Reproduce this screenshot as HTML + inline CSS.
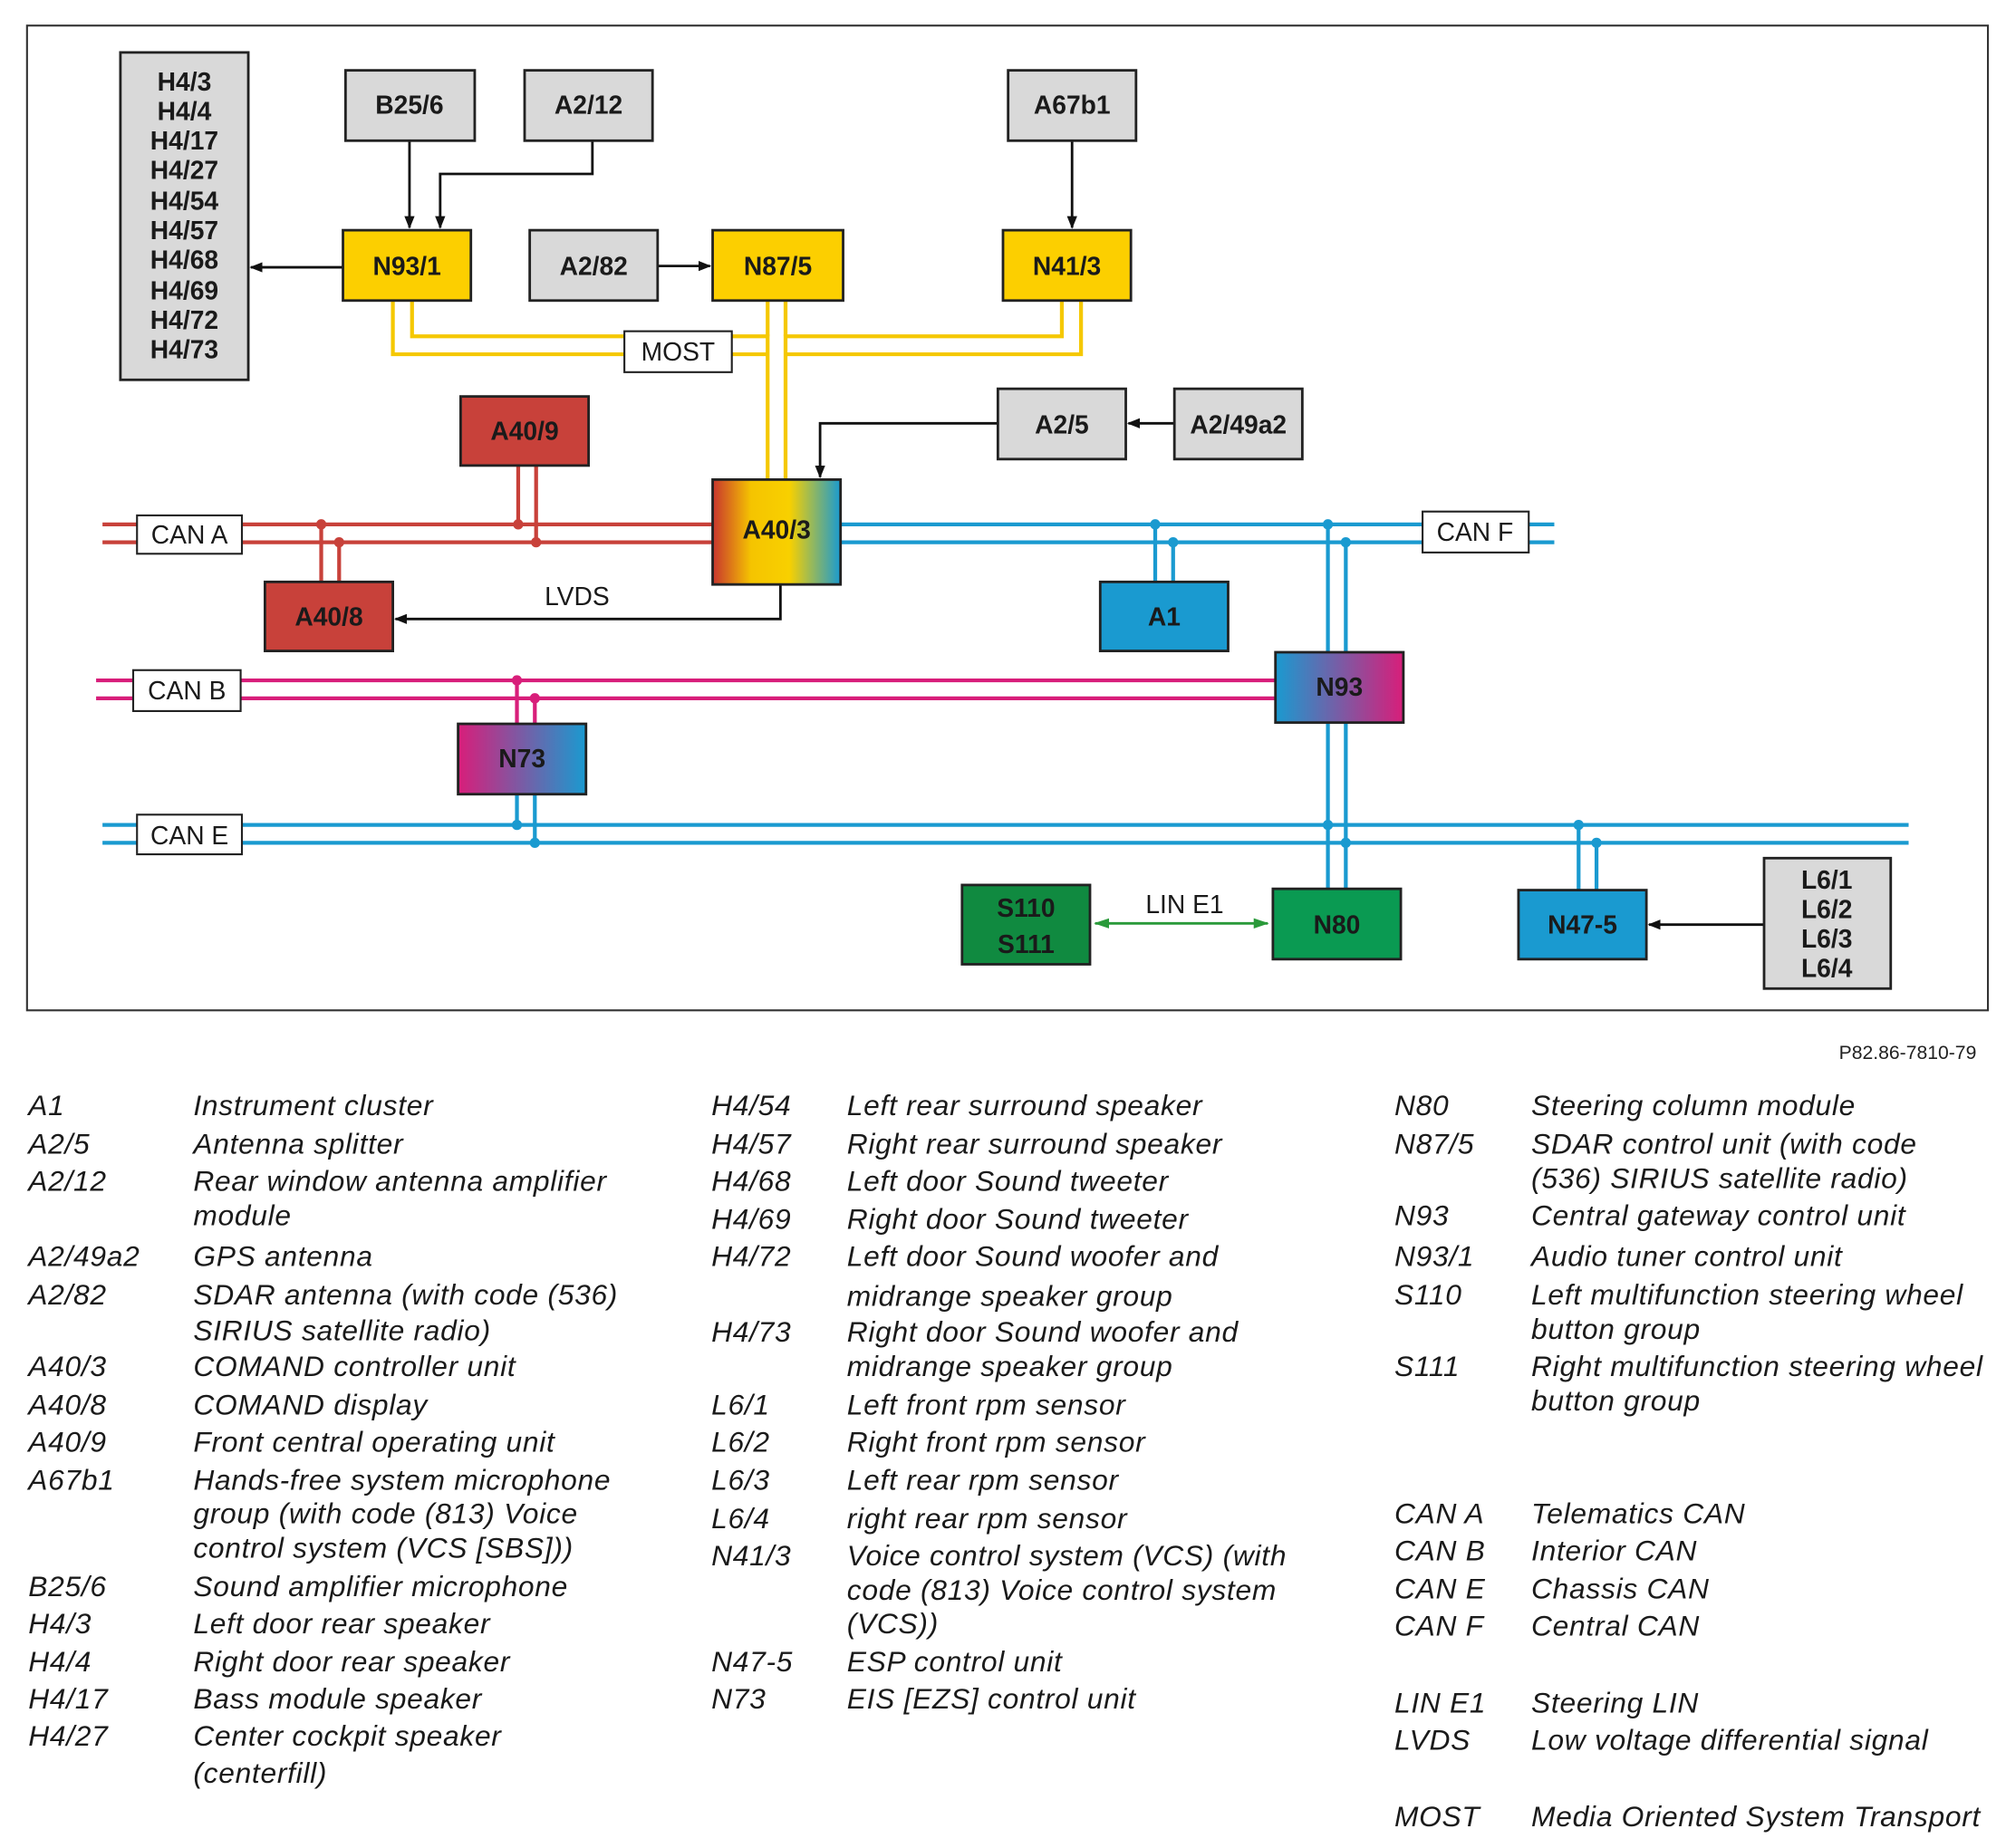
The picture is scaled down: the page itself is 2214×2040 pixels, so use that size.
<!DOCTYPE html>
<html><head><meta charset="utf-8"><style>html,body{margin:0;padding:0;background:#fff}svg{display:block}</style></head>
<body>
<svg width="2214" height="2040" viewBox="0 0 1568 1445" xmlns="http://www.w3.org/2000/svg" font-family="Liberation Sans, Arial, sans-serif">
<defs>
<linearGradient id="g403" x1="0" x2="1"><stop offset="0" stop-color="#c8352e"/><stop offset="0.3" stop-color="#f5c400"/><stop offset="0.6" stop-color="#f8d000"/><stop offset="1" stop-color="#1a9ad0"/></linearGradient>
<linearGradient id="g93" x1="0" x2="1"><stop offset="0" stop-color="#1a9ad0"/><stop offset="1" stop-color="#d81e7a"/></linearGradient>
<linearGradient id="g73" x1="0" x2="1"><stop offset="0" stop-color="#d81e7a"/><stop offset="1" stop-color="#1a9ad0"/></linearGradient>
<marker id="ar" markerWidth="10" markerHeight="10" refX="9" refY="5" orient="auto" markerUnits="userSpaceOnUse"><path d="M0,1 L10,5 L0,9 z" fill="#111"/></marker>
<marker id="ag" markerWidth="12" markerHeight="10" refX="11" refY="5" orient="auto" markerUnits="userSpaceOnUse"><path d="M0,1 L12,5 L0,9 z" fill="#2a9a3a"/></marker>
<marker id="ags" markerWidth="12" markerHeight="10" refX="1" refY="5" orient="auto" markerUnits="userSpaceOnUse"><path d="M12,1 L0,5 L12,9 z" fill="#2a9a3a"/></marker>
</defs>
<rect x="21" y="20" width="1533" height="770" fill="#fff" stroke="#333" stroke-width="1.5"/>

<g stroke="#f5c800" stroke-width="3" fill="none">
<path d="M322,235 V263 H600 V375"/><path d="M307,235 V277 H600"/>
<path d="M614,375 V263 H830 V235"/><path d="M614,277 H845 V235"/>
<path d="M600,235 V263"/><path d="M614,235 V263"/>
</g>
<g stroke="#c8413a" stroke-width="3" fill="none">
<path d="M80,410 H557"/><path d="M80,424 H557"/>
<path d="M405,364 V410"/><path d="M419,364 V424"/>
<path d="M251,455 V410"/><path d="M265,455 V424"/>
</g>
<g fill="#c8413a"><circle cx="405" cy="410" r="4"/><circle cx="419" cy="424" r="4"/><circle cx="251" cy="410" r="4"/><circle cx="265" cy="424" r="4"/></g>
<g stroke="#1a9ad0" stroke-width="3" fill="none">
<path d="M657,410 H1215"/><path d="M657,424 H1215"/>
<path d="M903,455 V410"/><path d="M917,455 V424"/>
<path d="M1038,510 V410"/><path d="M1052,510 V424"/>
<path d="M80,645 H1492"/><path d="M80,659 H1492"/>
<path d="M1038,565 V695"/><path d="M1052,565 V695"/>
<path d="M404,621 V645"/><path d="M418,621 V659"/>
<path d="M1234,696 V645"/><path d="M1248,696 V659"/>
</g>
<g fill="#1a9ad0"><circle cx="903" cy="410" r="4"/><circle cx="917" cy="424" r="4"/><circle cx="1038" cy="410" r="4"/><circle cx="1052" cy="424" r="4"/><circle cx="1038" cy="645" r="4"/><circle cx="1052" cy="659" r="4"/><circle cx="404" cy="645" r="4"/><circle cx="418" cy="659" r="4"/><circle cx="1234" cy="645" r="4"/><circle cx="1248" cy="659" r="4"/></g>
<g stroke="#d81e7a" stroke-width="3" fill="none">
<path d="M75,532 H997"/><path d="M75,546 H997"/>
<path d="M404,566 V532"/><path d="M418,566 V546"/>
</g>
<g fill="#d81e7a"><circle cx="404" cy="532" r="4"/><circle cx="418" cy="546" r="4"/></g>

<g stroke="#111" stroke-width="2" fill="none">
<path d="M320,110 V178" marker-end="url(#ar)"/>
<path d="M463,110 V136 H344 V178" marker-end="url(#ar)"/>
<path d="M838,110 V178" marker-end="url(#ar)"/>
<path d="M268,209 H196" marker-end="url(#ar)"/>
<path d="M514,208 H555" marker-end="url(#ar)"/>
<path d="M780,331 H641 V373" marker-end="url(#ar)"/>
<path d="M918,331 H882" marker-end="url(#ar)"/>
<path d="M610,457 V484 H309" marker-end="url(#ar)"/>
<path d="M1379,723 H1289" marker-end="url(#ar)"/>
</g>
<path d="M856,722 H991" stroke="#2a9a3a" stroke-width="2" marker-end="url(#ag)" marker-start="url(#ags)"/>

<g stroke="#222" stroke-width="2">
<rect x="94" y="41" width="100" height="256" fill="#d9d9d9"/>
<rect x="270" y="55" width="101" height="55" fill="#d9d9d9"/>
<rect x="410" y="55" width="100" height="55" fill="#d9d9d9"/>
<rect x="788" y="55" width="100" height="55" fill="#d9d9d9"/>
<rect x="268" y="180" width="100" height="55" fill="#fccf00"/>
<rect x="414" y="180" width="100" height="55" fill="#d9d9d9"/>
<rect x="557" y="180" width="102" height="55" fill="#fccf00"/>
<rect x="784" y="180" width="100" height="55" fill="#fccf00"/>
<rect x="360" y="310" width="100" height="54" fill="#c8413a"/>
<rect x="780" y="304" width="100" height="55" fill="#d9d9d9"/>
<rect x="918" y="304" width="100" height="55" fill="#d9d9d9"/>
<rect x="557" y="375" width="100" height="82" fill="url(#g403)"/>
<rect x="207" y="455" width="100" height="54" fill="#c8413a"/>
<rect x="860" y="455" width="100" height="54" fill="#1a9ad0"/>
<rect x="997" y="510" width="100" height="55" fill="url(#g93)"/>
<rect x="358" y="566" width="100" height="55" fill="url(#g73)"/>
<rect x="752" y="692" width="100" height="62" fill="#108a40"/>
<rect x="995" y="695" width="100" height="55" fill="#0a9a52"/>
<rect x="1187" y="696" width="100" height="54" fill="#1a9ad0"/>
<rect x="1379" y="671" width="99" height="102" fill="#d9d9d9"/>
</g>
<g stroke="#222" stroke-width="1.5" fill="#fff">
<rect x="488" y="259" width="84" height="32"/>
<rect x="107" y="403" width="82" height="30"/>
<rect x="1112" y="400" width="83" height="32"/>
<rect x="104" y="524" width="84" height="32"/>
<rect x="107" y="637" width="82" height="31"/>
</g>

<g font-weight="bold" font-size="20" fill="#1a1a1a" text-anchor="middle">
<text x="144" y="71">H4/3</text><text x="144" y="94">H4/4</text><text x="144" y="117">H4/17</text><text x="144" y="140">H4/27</text><text x="144" y="164">H4/54</text><text x="144" y="187">H4/57</text><text x="144" y="210">H4/68</text><text x="144" y="234">H4/69</text><text x="144" y="257">H4/72</text><text x="144" y="280">H4/73</text>
<text x="320" y="89">B25/6</text><text x="460" y="89">A2/12</text><text x="838" y="89">A67b1</text>
<text x="318" y="215">N93/1</text><text x="464" y="215">A2/82</text><text x="608" y="215">N87/5</text><text x="834" y="215">N41/3</text>
<text x="410" y="344">A40/9</text><text x="830" y="339">A2/5</text><text x="968" y="339">A2/49a2</text>
<text x="607" y="421">A40/3</text><text x="257" y="489">A40/8</text><text x="910" y="489">A1</text>
<text x="1047" y="544">N93</text><text x="408" y="600">N73</text>
<text x="802" y="717">S110</text><text x="802" y="745">S111</text>
<text x="1045" y="730">N80</text><text x="1237" y="730">N47-5</text>
<text x="1428" y="695">L6/1</text><text x="1428" y="718">L6/2</text><text x="1428" y="741">L6/3</text><text x="1428" y="764">L6/4</text>
</g>
<g font-size="20" fill="#1a1a1a" text-anchor="middle">
<text x="530" y="282">MOST</text><text x="148" y="425">CAN A</text><text x="1153" y="423">CAN F</text><text x="146" y="547">CAN B</text><text x="148" y="660">CAN E</text>
<text x="451" y="473">LVDS</text><text x="926" y="714">LIN E1</text>
</g>
<text x="1545" y="828" font-size="15" text-anchor="end" fill="#222">P82.86-7810-79</text>

<g font-size="22.5" font-style="italic" fill="#1a1a1a" letter-spacing="0.5">
<text x="22" y="872">A1</text><text x="151" y="872">Instrument cluster</text>
<text x="22" y="902">A2/5</text><text x="151" y="902">Antenna splitter</text>
<text x="22" y="931">A2/12</text><text x="151" y="931">Rear window antenna amplifier</text><text x="151" y="958">module</text>
<text x="22" y="990">A2/49a2</text><text x="151" y="990">GPS antenna</text>
<text x="22" y="1020">A2/82</text><text x="151" y="1020">SDAR antenna (with code (536)</text><text x="151" y="1048">SIRIUS satellite radio)</text>
<text x="22" y="1076">A40/3</text><text x="151" y="1076">COMAND controller unit</text>
<text x="22" y="1106">A40/8</text><text x="151" y="1106">COMAND display</text>
<text x="22" y="1135">A40/9</text><text x="151" y="1135">Front central operating unit</text>
<text x="22" y="1165">A67b1</text><text x="151" y="1165">Hands-free system microphone</text><text x="151" y="1191">group (with code (813) Voice</text><text x="151" y="1218">control system (VCS [SBS]))</text>
<text x="22" y="1248">B25/6</text><text x="151" y="1248">Sound amplifier microphone</text>
<text x="22" y="1277">H4/3</text><text x="151" y="1277">Left door rear speaker</text>
<text x="22" y="1307">H4/4</text><text x="151" y="1307">Right door rear speaker</text>
<text x="22" y="1336">H4/17</text><text x="151" y="1336">Bass module speaker</text>
<text x="22" y="1365">H4/27</text><text x="151" y="1365">Center cockpit speaker</text><text x="151" y="1394">(centerfill)</text>

<text x="556" y="872">H4/54</text><text x="662" y="872">Left rear surround speaker</text>
<text x="556" y="902">H4/57</text><text x="662" y="902">Right rear surround speaker</text>
<text x="556" y="931">H4/68</text><text x="662" y="931">Left door Sound tweeter</text>
<text x="556" y="961">H4/69</text><text x="662" y="961">Right door Sound tweeter</text>
<text x="556" y="990">H4/72</text><text x="662" y="990">Left door Sound woofer and</text><text x="662" y="1021">midrange speaker group</text>
<text x="556" y="1049">H4/73</text><text x="662" y="1049">Right door Sound woofer and</text><text x="662" y="1076">midrange speaker group</text>
<text x="556" y="1106">L6/1</text><text x="662" y="1106">Left front rpm sensor</text>
<text x="556" y="1135">L6/2</text><text x="662" y="1135">Right front rpm sensor</text>
<text x="556" y="1165">L6/3</text><text x="662" y="1165">Left rear rpm sensor</text>
<text x="556" y="1195">L6/4</text><text x="662" y="1195">right rear rpm sensor</text>
<text x="556" y="1224">N41/3</text><text x="662" y="1224">Voice control system (VCS) (with</text><text x="662" y="1251">code (813) Voice control system</text><text x="662" y="1277">(VCS))</text>
<text x="556" y="1307">N47-5</text><text x="662" y="1307">ESP control unit</text>
<text x="556" y="1336">N73</text><text x="662" y="1336">EIS [EZS] control unit</text>

<text x="1090" y="872">N80</text><text x="1197" y="872">Steering column module</text>
<text x="1090" y="902">N87/5</text><text x="1197" y="902">SDAR control unit (with code</text><text x="1197" y="929">(536) SIRIUS satellite radio)</text>
<text x="1090" y="958">N93</text><text x="1197" y="958">Central gateway control unit</text>
<text x="1090" y="990">N93/1</text><text x="1197" y="990">Audio tuner control unit</text>
<text x="1090" y="1020">S110</text><text x="1197" y="1020">Left multifunction steering wheel</text><text x="1197" y="1047">button group</text>
<text x="1090" y="1076">S111</text><text x="1197" y="1076">Right multifunction steering wheel</text><text x="1197" y="1103">button group</text>
<text x="1090" y="1191">CAN A</text><text x="1197" y="1191">Telematics CAN</text>
<text x="1090" y="1220">CAN B</text><text x="1197" y="1220">Interior CAN</text>
<text x="1090" y="1250">CAN E</text><text x="1197" y="1250">Chassis CAN</text>
<text x="1090" y="1279">CAN F</text><text x="1197" y="1279">Central CAN</text>
<text x="1090" y="1339">LIN E1</text><text x="1197" y="1339">Steering LIN</text>
<text x="1090" y="1368">LVDS</text><text x="1197" y="1368">Low voltage differential signal</text>
<text x="1090" y="1428">MOST</text><text x="1197" y="1428">Media Oriented System Transport</text>
</g>
</svg>
</body></html>
